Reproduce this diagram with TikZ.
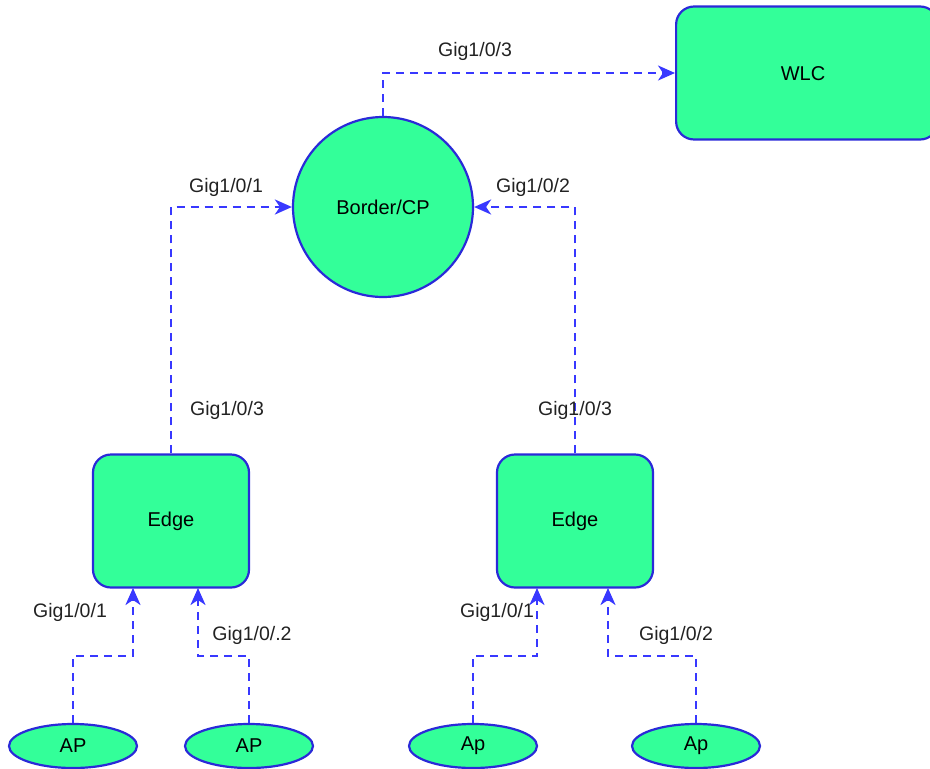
\documentclass[tikz,border=0pt]{standalone}
\usepackage{fontspec}
\setmainfont{Liberation Sans}
\usetikzlibrary{arrows.meta,shapes.geometric}
\definecolor{nodefill}{HTML}{33FF99}
\definecolor{nodeline}{HTML}{2A2AD8}
\definecolor{linkblue}{HTML}{3838FF}
\definecolor{labelgray}{HTML}{222222}
\tikzset{
  devbox/.style={draw=nodeline,fill=nodefill,line width=2.2pt,rounded corners=18pt,
    minimum width=156pt,minimum height=133pt,inner sep=0pt,font=\fontsize{20}{23}\selectfont},
  hubcircle/.style={draw=nodeline,fill=nodefill,line width=2.2pt,circle,minimum size=180pt,
    inner sep=0pt,font=\fontsize{20}{23}\selectfont},
  apnode/.style={draw=nodeline,fill=nodefill,line width=2.2pt,ellipse,minimum width=128pt,
    minimum height=44pt,inner sep=0pt,font=\fontsize{20}{23}\selectfont},
  link/.style={draw=linkblue,line width=2.4pt,dash pattern=on 8pt off 6pt,
    -{Stealth[length=17pt,width=15pt,inset=5pt]}},
  portlabel/.style={text=labelgray,font=\fontsize{19.5}{22}\selectfont,inner sep=0pt}
}
\begin{document}
\begin{tikzpicture}[x=1pt,y=-1pt]
  \useasboundingbox (0,0) rectangle (930,769);
  % controller, clipped at the right edge
  \begin{scope}
    \clip (0,0) rectangle (930,769);
    \node[devbox,minimum width=262pt,anchor=west] (wlc) at (675,73) {};
  \end{scope}
  \node[font=\fontsize{20}{23}\selectfont] (wlctext) at (803,74) {WLC};
  % border / control plane
  \node[hubcircle] (bcp) at (383,207) {Border/CP};
  % edge switches
  \node[devbox] (edgeL) at (171,521) {Edge};
  \node[devbox] (edgeR) at (575,521) {Edge};
  % access points
  \node[apnode] (ap1) at (73,746) {AP};
  \node[apnode] (ap2) at (249,746) {AP};
  \node[apnode] (ap3) at (473,746) {Ap};
  \node[apnode] (ap4) at (696,746) {Ap};
  % uplinks
  \draw[link] (bcp.north) |- (wlc.west);
  \draw[link] (edgeL.north) |- (bcp.west);
  \draw[link] (edgeR.north) |- (bcp.east);
  % access links
  \coordinate (e1) at (133,588);
  \coordinate (e2) at (198,588);
  \coordinate (e3) at (537,588);
  \coordinate (e4) at (608,588);
  \draw[link] (ap1.north) -- ++(0,-67) -| (e1);
  \draw[link] (ap2.north) -- ++(0,-67) -| (e2);
  \draw[link] (ap3.north) -- ++(0,-67) -| (e3);
  \draw[link] (ap4.north) -- ++(0,-67) -| (e4);
  % port labels
  \node[portlabel] (l1) at (475,51) {Gig1/0/3};
  \node[portlabel] (l2) at (226,187) {Gig1/0/1};
  \node[portlabel] (l3) at (533,187) {Gig1/0/2};
  \node[portlabel] (l4) at (227,410) {Gig1/0/3};
  \node[portlabel] (l5) at (575,410) {Gig1/0/3};
  \node[portlabel] (l6) at (70,612) {Gig1/0/1};
  \node[portlabel] (l7) at (252,635) {Gig1/0/.2};
  \node[portlabel] (l8) at (497,612) {Gig1/0/1};
  \node[portlabel] (l9) at (676,635) {Gig1/0/2};
\end{tikzpicture}
\end{document}
